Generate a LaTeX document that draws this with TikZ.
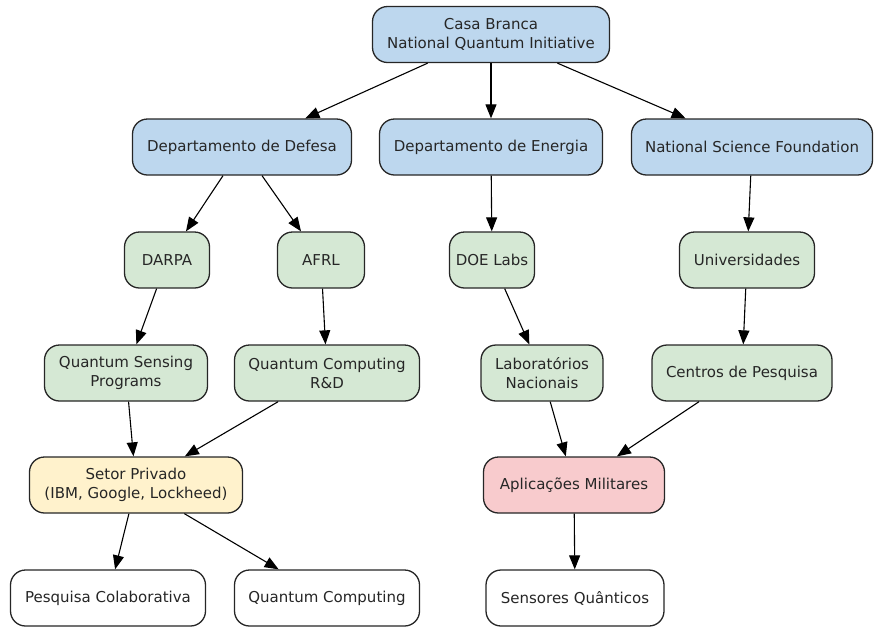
\documentclass[tikz,border=0pt]{standalone}
\usepackage{fontspec}
\setmainfont{DejaVu Sans}
\usepackage{tikz}
\usetikzlibrary{arrows.meta}
\definecolor{govblue}{HTML}{BDD7EE}
\definecolor{labgreen}{HTML}{D5E8D4}
\definecolor{privyellow}{HTML}{FFF2CC}
\definecolor{milpink}{HTML}{F8CBCD}
\tikzset{
  box/.style     = {draw=black!85, line width=1.3pt, rounded corners=15pt,
                    minimum height=56pt, align=center, text=black!85,
                    font=\fontsize{15}{19}\selectfont},
  govbox/.style  = {box, fill=govblue},
  labbox/.style  = {box, fill=labgreen},
  privbox/.style = {box, fill=privyellow},
  milbox/.style  = {box, fill=milpink},
  outbox/.style  = {box, fill=white},
  link/.style    = {-{Triangle[length=14pt,width=11pt]}, line width=1.1pt}
}

\begin{document}
\begin{tikzpicture}[x=1pt,y=-1pt]
  \useasboundingbox (0,0) rectangle (880,630);
  % top level
  \node[govbox, minimum width=237pt] (casa) at (491,34.5) {Casa Branca\\National Quantum Initiative};
  \node[govbox, minimum width=219pt] (defesa) at (242,147) {Departamento de Defesa};
  \node[govbox, minimum width=223pt] (energia) at (491,147) {Departamento de Energia};
  \node[govbox, minimum width=241pt] (nsf) at (752,147) {National Science Foundation};
  % agencies and labs
  \node[labbox, minimum width=85pt] (darpa) at (167,260) {DARPA};
  \node[labbox, minimum width=87pt] (afrl) at (321,260) {AFRL};
  \node[labbox, minimum width=85pt] (doelabs) at (492,260) {DOE Labs};
  \node[labbox, minimum width=135pt] (univ) at (747,260) {Universidades};
  \node[labbox, minimum width=163pt] (qsens) at (126,373) {Quantum Sensing\\Programs};
  \node[labbox, minimum width=185pt] (qcrd) at (327,373) {Quantum Computing\\R\&D};
  \node[labbox, minimum width=122pt] (labnac) at (542,373) {Laboratórios\\Nacionais};
  \node[labbox, minimum width=180pt] (centros) at (742,373) {Centros de Pesquisa};
  % sectors
  \node[privbox, minimum width=213pt] (setor) at (136,485) {Setor Privado\\(IBM, Google, Lockheed)};
  \node[milbox, minimum width=181pt] (aplic) at (574,485) {Aplicações Militares};
  % outputs
  \node[outbox, minimum width=195pt] (pesq) at (108,598) {Pesquisa Colaborativa};
  \node[outbox, minimum width=185pt] (qc) at (327,598) {Quantum Computing};
  \node[outbox, minimum width=178pt] (sensores) at (575,598) {Sensores Quânticos};

  \foreach \a/\b in {casa/defesa, casa/energia, casa/nsf,
                     defesa/darpa, defesa/afrl, energia/doelabs, nsf/univ,
                     darpa/qsens, afrl/qcrd, doelabs/labnac, univ/centros,
                     qsens/setor, qcrd/setor, labnac/aplic, centros/aplic,
                     setor/pesq, setor/qc, aplic/sensores}
    { \draw[link] (\a) -- (\b); }
\end{tikzpicture}
\end{document}
